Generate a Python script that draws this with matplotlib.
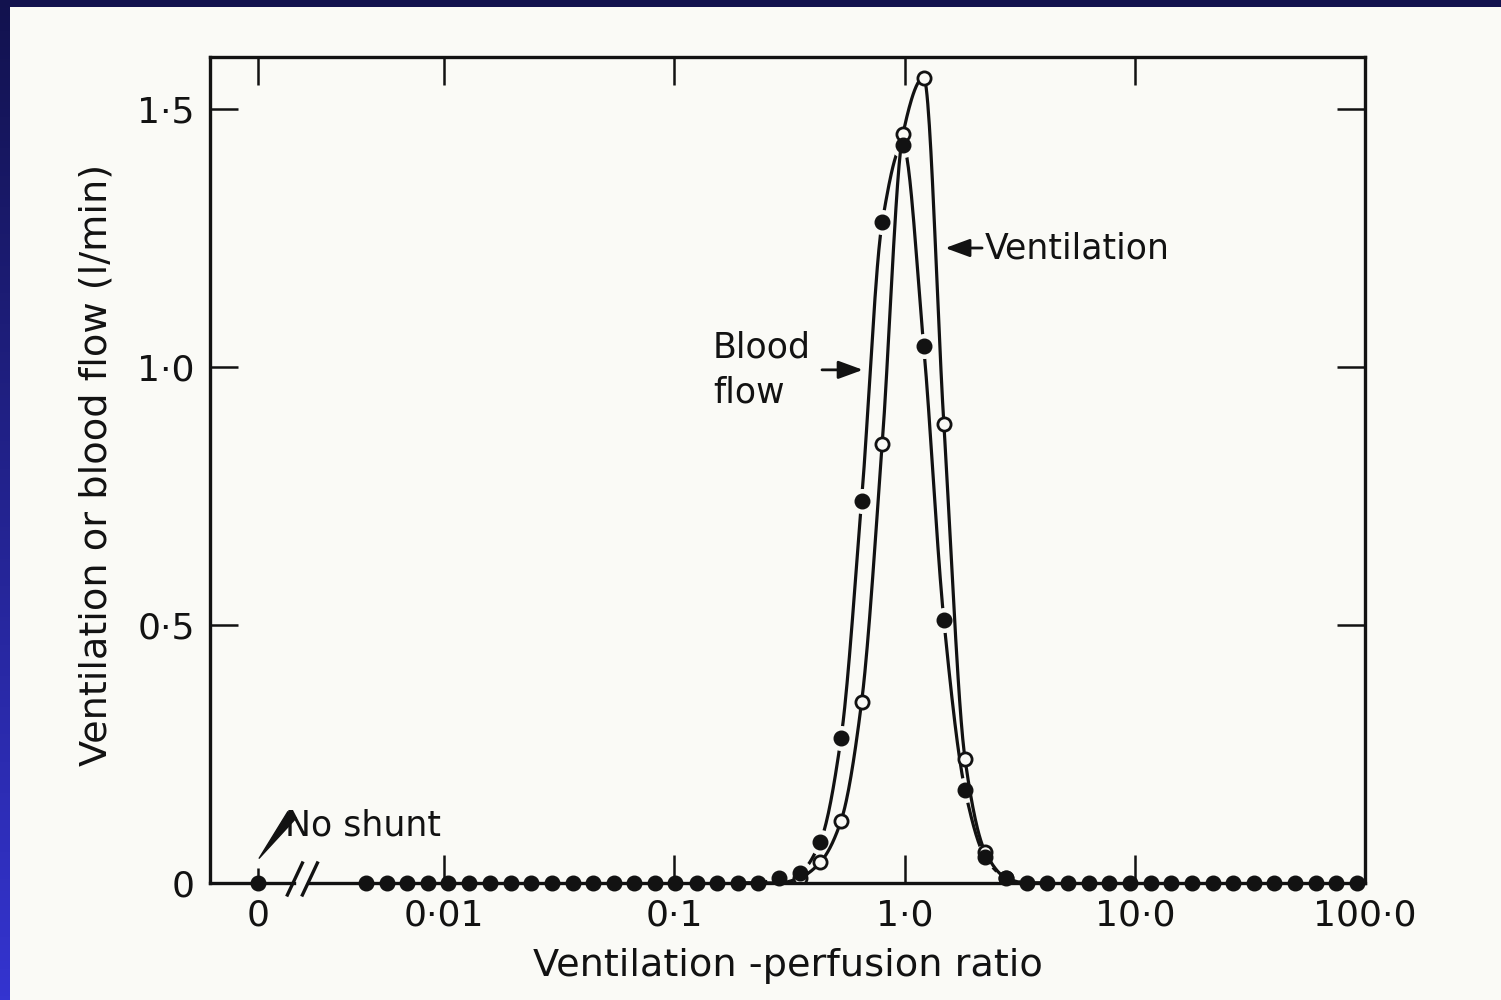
import numpy as np
import matplotlib
matplotlib.use("Agg")
import matplotlib.pyplot as plt
from matplotlib.colors import LinearSegmentedColormap
from matplotlib.patches import Rectangle
from matplotlib.ticker import NullLocator

# ventilation-perfusion ratio of each compartment (log spaced as drawn)
vq_ratio = [0.00457, 0.00562, 0.00691, 0.00849, 0.0104, 0.0128, 0.0158, 0.0194,
            0.0239, 0.0293, 0.0361, 0.0443, 0.0545, 0.0670, 0.0824, 0.101,
            0.125, 0.153, 0.188, 0.231, 0.284, 0.350, 0.430, 0.529,
            0.650, 0.799, 0.982, 1.21, 1.48, 1.83, 2.24, 2.76,
            3.39, 4.17, 5.13, 6.30, 7.75, 9.53, 11.7, 14.4,
            17.7, 21.8, 26.8, 32.9, 40.4, 49.7, 61.1, 75.1, 92.4]

# l/min
blood_flow = [0, 0, 0, 0, 0, 0, 0, 0, 0, 0, 0, 0, 0, 0, 0, 0, 0, 0, 0, 0,
              0.01, 0.02, 0.08, 0.28, 0.74, 1.28, 1.43, 1.04, 0.51, 0.18, 0.05, 0.01,
              0, 0, 0, 0, 0, 0, 0, 0, 0, 0, 0, 0, 0, 0, 0, 0, 0]
ventilation = [0, 0, 0, 0, 0, 0, 0, 0, 0, 0, 0, 0, 0, 0, 0, 0, 0, 0, 0, 0,
               0, 0.01, 0.04, 0.12, 0.35, 0.85, 1.45, 1.56, 0.89, 0.24, 0.06, 0.01,
               0, 0, 0, 0, 0, 0, 0, 0, 0, 0, 0, 0, 0, 0, 0, 0, 0]
no_shunt_flow = 0.0

x_tick_labels = ["0", "0·01", "0·1", "1·0", "10·0", "100·0"]
x_tick_values = [0.01, 0.1, 1.0, 10.0, 100.0]
y_ticks = [0, 0.5, 1.0, 1.5]
y_tick_labels = ["0", "0·5", "1·0", "1·5"]

ZERO_POS = 0.00155   # where the broken axis shows V/Q = 0
PAPER = "#fafaf6"
INK = "#121212"


def smooth(x, y, n=400):
    # monotone cubic (Fritsch-Carlson) through the points, in log x
    lx = np.log10(x)
    y = np.asarray(y, float)
    h = np.diff(lx)
    d = np.diff(y) / h
    m = np.zeros_like(y)
    m[0], m[-1] = d[0], d[-1]
    for k in range(1, len(y) - 1):
        if d[k - 1] * d[k] > 0:
            w1 = 2 * h[k] + h[k - 1]
            w2 = h[k] + 2 * h[k - 1]
            m[k] = (w1 + w2) / (w1 / d[k - 1] + w2 / d[k])
    xs = np.linspace(lx[0], lx[-1], n)
    k = np.clip(np.searchsorted(lx, xs) - 1, 0, len(h) - 1)
    t = (xs - lx[k]) / h[k]
    h00 = 2 * t**3 - 3 * t**2 + 1
    h10 = t**3 - 2 * t**2 + t
    h01 = -2 * t**3 + 3 * t**2
    h11 = t**3 - t**2
    ys = h00 * y[k] + h10 * h[k] * m[k] + h01 * y[k + 1] + h11 * h[k] * m[k + 1]
    return 10**xs, ys


plt.rcParams["font.family"] = ["DejaVu Sans"]

fig = plt.figure(figsize=(15.01, 10), dpi=100)

# slide background: blue gradient with the scanned page on top
bg = fig.add_axes([0, 0, 1, 1], zorder=-2)
cmap = LinearSegmentedColormap.from_list("slide", ["#12124e", "#3434d0"])
bg.imshow(np.linspace(0, 1, 256)[:, None], cmap=cmap, aspect="auto", extent=[0, 1, 0, 1])
bg.add_patch(Rectangle((10 / 1501, 0), 1, 1 - 7 / 1000, facecolor=PAPER, zorder=2))
bg.set_xlim(0, 1)
bg.set_ylim(0, 1)
bg.axis("off")

ax = fig.add_axes([0.1399, 0.117, 0.7695, 0.826])
ax.set_facecolor("none")
ax.set_xscale("log")
ax.set_xlim(9.6e-4, 100)
ax.set_ylim(0, 1.6)

vq = np.array(vq_ratio)
bf = np.array(blood_flow)
vent = np.array(ventilation)

# smooth curves over the part of the range where flow is non-zero
sel = slice(18, 34)
xs, ys = smooth(vq[sel], bf[sel])
ax.plot(xs, ys, color=INK, lw=2.3, zorder=2, solid_capstyle="round")
# little gaps in the blood flow line around its points
up = bf > 0
ax.plot(vq[up], bf[up], "o", ms=17, color=PAPER, zorder=3)

xs, ys = smooth(vq[sel], vent[sel])
ax.plot(xs, ys, color=INK, lw=2.3, zorder=3.5, solid_capstyle="round")

vm = vent > 0
ax.plot(vq[vm], vent[vm], "o", ms=9.5, mfc=PAPER, mec=INK, mew=2, zorder=4)
ax.plot(vq, bf, "o", ms=10.5, color=INK, zorder=5, clip_on=False)
ax.plot([ZERO_POS], [no_shunt_flow], "o", ms=10.5, color=INK, zorder=5, clip_on=False)

# frame, with a break in the bottom axis after the zero point
for side in ["left", "right", "top"]:
    ax.spines[side].set_linewidth(2.4)
    ax.spines[side].set_color(INK)
ax.spines["bottom"].set_visible(False)
ax.plot([0, 0.073], [0, 0], color=INK, lw=2.4, transform=ax.transAxes, clip_on=False, zorder=6)
ax.plot([0.086, 1], [0, 0], color=INK, lw=2.4, transform=ax.transAxes, clip_on=False, zorder=6)
for x0 in [0.0735, 0.0865]:
    ax.plot([x0 - 0.0065, x0 + 0.0065], [-0.0145, 0.0242], color=INK, lw=2.4,
            transform=ax.transAxes, clip_on=False, zorder=6)

ax.set_xticks([ZERO_POS] + x_tick_values)
ax.set_xticklabels(x_tick_labels)
ax.xaxis.set_minor_locator(NullLocator())
ax.set_yticks(y_ticks)
ax.set_yticklabels(y_tick_labels)
ax.tick_params(axis="both", direction="in", length=20, width=1.8, color=INK,
               labelsize=26, labelcolor=INK, top=True, right=True, pad=11)
ax.xaxis.get_major_ticks()[0].tick1line.set_markersize(11)

ax.set_xlabel("Ventilation -perfusion ratio", fontsize=27.5, color=INK)
ax.xaxis.set_label_coords(0.5, -0.079)
ax.set_ylabel("Ventilation or blood flow (l/min)", fontsize=27.5, color=INK)
ax.yaxis.set_label_coords(-0.083, 0.506)

# labels with their pointers
ax.text(0.00203, 0.112, "No shunt", fontsize=25, color=INK, ha="left", va="center")
ax.annotate("", xy=(0.00157, 0.048), xytext=(0.00218, 0.132),
            arrowprops=dict(arrowstyle="wedge,tail_width=0.3", color=INK, lw=1,
                            shrinkA=0, shrinkB=0, mutation_scale=25))

ax.text(0.147, 0.994, "Blood\nflow", fontsize=25, color=INK, ha="left", va="center",
        linespacing=1.4)
ax.annotate("", xy=(0.659, 0.994), xytext=(0.4375, 0.994),
            arrowprops=dict(arrowstyle="-|>,head_length=0.6,head_width=0.22", color=INK,
                            lw=2, shrinkA=0, shrinkB=0, mutation_scale=25))

ax.text(2.23, 1.23, "Ventilation", fontsize=25, color=INK, ha="left", va="center")
ax.annotate("", xy=(1.50, 1.23), xytext=(2.17, 1.23),
            arrowprops=dict(arrowstyle="-|>,head_length=0.6,head_width=0.22", color=INK,
                            lw=2, shrinkA=0, shrinkB=0, mutation_scale=25))

fig.savefig("out.png", dpi=100, facecolor="#12124e")
